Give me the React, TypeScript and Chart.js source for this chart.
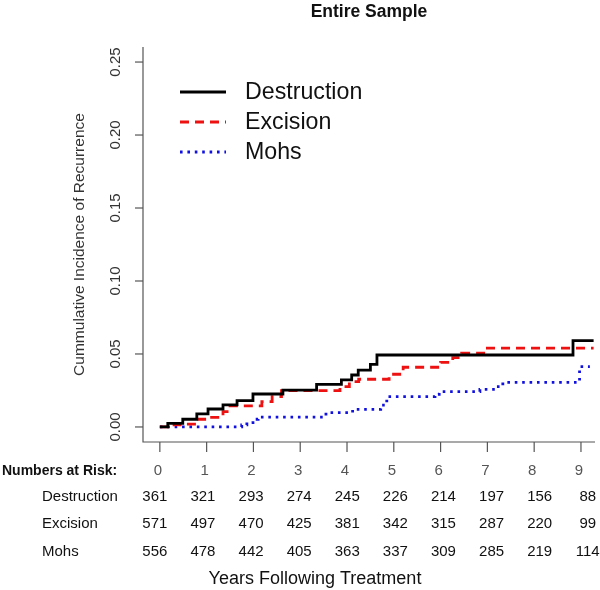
import React, { useEffect, useRef } from "react";
import { Chart, registerables } from "chart.js";

Chart.register(...registerables);

const TITLE = "Entire Sample";
const Y_LABEL = "Cummulative Incidence of Recurrence";
const X_LABEL = "Years Following Treatment";
const RISK_HEADER = "Numbers at Risk:";

const GROUPS = ["Destruction", "Excision", "Mohs"];
const YEAR_TICKS = [0, 1, 2, 3, 4, 5, 6, 7, 8, 9];
const Y_TICKS = [0, 0.05, 0.1, 0.15, 0.2, 0.25];
const Y_TICK_LABELS = ["0.00", "0.05", "0.10", "0.15", "0.20", "0.25"];

// Step curves: time (years) and cumulative incidence after each step
const destructionTimes = [0, 0.17, 0.49, 0.79, 1.03, 1.35, 1.65, 1.99, 2.63, 3.35, 3.88, 4.1, 4.24, 4.5, 4.64, 8.83, 9.27];
const destructionValues = [0, 0.0025, 0.0053, 0.0089, 0.0123, 0.0151, 0.018, 0.0226, 0.0253, 0.0292, 0.0322, 0.0356, 0.039, 0.0429, 0.0493, 0.0591, 0.0591];

const excisionTimes = [0, 0.2, 0.55, 0.81, 1.07, 1.35, 1.5, 2.18, 2.4, 2.6, 3.85, 4.05, 4.25, 4.9, 5.2, 6.0, 6.26, 6.45, 7.0, 9.27];
const excisionValues = [0, 0.0015, 0.002, 0.0053, 0.0066, 0.0105, 0.0144, 0.0173, 0.0208, 0.0249, 0.0276, 0.031, 0.0327, 0.0361, 0.0409, 0.0443, 0.0475, 0.0505, 0.054, 0.054];

const mohsTimes = [0, 1.75, 1.86, 1.99, 2.1, 3.55, 4.12, 4.72, 4.85, 5.88, 5.97, 6.84, 7.16, 7.33, 8.97, 9.19];
const mohsValues = [0, 0.0014, 0.003, 0.0053, 0.0068, 0.0098, 0.0121, 0.015, 0.0208, 0.0224, 0.0242, 0.0258, 0.0276, 0.0306, 0.0413, 0.0413];

const riskDestruction = [361, 321, 293, 274, 245, 226, 214, 197, 156, 88];
const riskExcision = [571, 497, 470, 425, 381, 342, 315, 287, 220, 99];
const riskMohs = [556, 478, 442, 405, 363, 337, 309, 285, 219, 114];

const COLORS = ["#000000", "#ee1111", "#1010e0"];
const DASHES: number[][] = [[], [9, 6], [2.6, 4.8]];

const FONT = "'Liberation Sans', Arial, sans-serif";

function toPoints(t: number[], v: number[]) {
  return t.map((x, i) => ({ x, y: v[i] }));
}

export default function App() {
  const ref = useRef<HTMLCanvasElement | null>(null);

  useEffect(() => {
    if (!ref.current) return;
    const decor = {
      id: "decor",
      afterDraw(chart: any) {
        const ctx = chart.ctx as CanvasRenderingContext2D;
        const xs = chart.scales.x;
        const ys = chart.scales.y;
        const area = chart.chartArea;
        ctx.save();
        // axes
        ctx.strokeStyle = "#555";
        ctx.lineWidth = 1.2;
        ctx.setLineDash([]);
        ctx.beginPath();
        ctx.moveTo(area.left, area.top);
        ctx.lineTo(area.left, area.bottom);
        ctx.lineTo(area.right, area.bottom);
        ctx.stroke();
        // y ticks
        ctx.fillStyle = "#333";
        ctx.font = `15px ${FONT}`;
        Y_TICKS.forEach((v, i) => {
          const py = ys.getPixelForValue(v);
          ctx.beginPath();
          ctx.moveTo(area.left - 8, py);
          ctx.lineTo(area.left, py);
          ctx.stroke();
          ctx.save();
          ctx.translate(116, py);
          ctx.rotate(-Math.PI / 2);
          ctx.textAlign = "center";
          ctx.textBaseline = "middle";
          ctx.fillText(Y_TICK_LABELS[i], 0, 0);
          ctx.restore();
        });
        // y label
        ctx.save();
        ctx.translate(80, (area.top + area.bottom) / 2);
        ctx.rotate(-Math.PI / 2);
        ctx.textAlign = "center";
        ctx.textBaseline = "middle";
        ctx.font = `15.5px ${FONT}`;
        ctx.fillStyle = "#333";
        ctx.fillText(Y_LABEL, 0, 0);
        ctx.restore();
        // x ticks and header digits
        ctx.textAlign = "center";
        ctx.textBaseline = "middle";
        YEAR_TICKS.forEach((t) => {
          const px = xs.getPixelForValue(t);
          ctx.beginPath();
          ctx.moveTo(px, area.bottom);
          ctx.lineTo(px, area.bottom + 10);
          ctx.stroke();
          ctx.fillStyle = "#555";
          ctx.font = `15px ${FONT}`;
          ctx.fillText(String(t), px - 2, 471);
        });
        // risk header
        ctx.textAlign = "left";
        ctx.fillStyle = "#111";
        ctx.font = `bold 14px ${FONT}`;
        ctx.fillText(RISK_HEADER, 2, 471);
        const rows = [riskDestruction, riskExcision, riskMohs];
        const rowY = [497, 524, 552];
        const px0 = xs.getPixelForValue(YEAR_TICKS[0]);
        ctx.font = `15px ${FONT}`;
        rows.forEach((r, ri) => {
          ctx.textAlign = "left";
          ctx.fillStyle = "#111";
          ctx.fillText(GROUPS[ri], 42, rowY[ri]);
          ctx.textAlign = "center";
          r.forEach((n, i) => {
            const px = xs.getPixelForValue(YEAR_TICKS[i]);
            ctx.fillText(String(n), px0 - 5 + (px - px0) * 1.028, rowY[ri]);
          });
        });
        // x label
        ctx.textAlign = "center";
        ctx.font = `18px ${FONT}`;
        ctx.fillStyle = "#111";
        ctx.fillText(X_LABEL, 315, 579);
        // title
        ctx.font = `bold 17.5px ${FONT}`;
        ctx.fillStyle = "#111";
        ctx.fillText(TITLE, (area.left + area.right) / 2, 12);
        // legend
        const legY = [92, 122, 152];
        GROUPS.forEach((g, i) => {
          ctx.strokeStyle = COLORS[i];
          ctx.lineWidth = 3;
          ctx.setLineDash(DASHES[i]);
          ctx.beginPath();
          ctx.moveTo(180, legY[i]);
          ctx.lineTo(226, legY[i]);
          ctx.stroke();
          ctx.setLineDash([]);
          ctx.fillStyle = "#111";
          ctx.textAlign = "left";
          ctx.font = `23.2px ${FONT}`;
          ctx.fillText(g, 245, legY[i] + 1);
        });
        ctx.restore();
      },
    };

    const series = [
      toPoints(destructionTimes, destructionValues),
      toPoints(excisionTimes, excisionValues),
      toPoints(mohsTimes, mohsValues),
    ];

    const chart = new Chart(ref.current, {
      type: "line",
      data: {
        datasets: series.map((d, i) => ({
          label: GROUPS[i],
          data: d,
          borderColor: COLORS[i],
          borderWidth: 2.8,
          borderDash: DASHES[i],
          pointRadius: 0,
          stepped: "before" as const,
          fill: false,
        })),
      },
      options: {
        animation: false,
        responsive: false,
        devicePixelRatio: 1,
        layout: { padding: { left: 143, right: 5, top: 47, bottom: 148 } },
        plugins: { legend: { display: false }, tooltip: { enabled: false }, title: { display: false } },
        scales: {
          x: { type: "linear", min: -0.36, max: 9.3, display: false },
          y: { type: "linear", min: -0.0103, max: 0.2603, display: false },
        },
      },
      plugins: [decor],
    });
    return () => chart.destroy();
  }, []);

  return (
    <div style={{ position: "fixed", left: 0, top: 0, width: 600, height: 590, background: "#fff" }}>
      <canvas ref={ref} width={600} height={590} style={{ display: "block" }} />
    </div>
  );
}
